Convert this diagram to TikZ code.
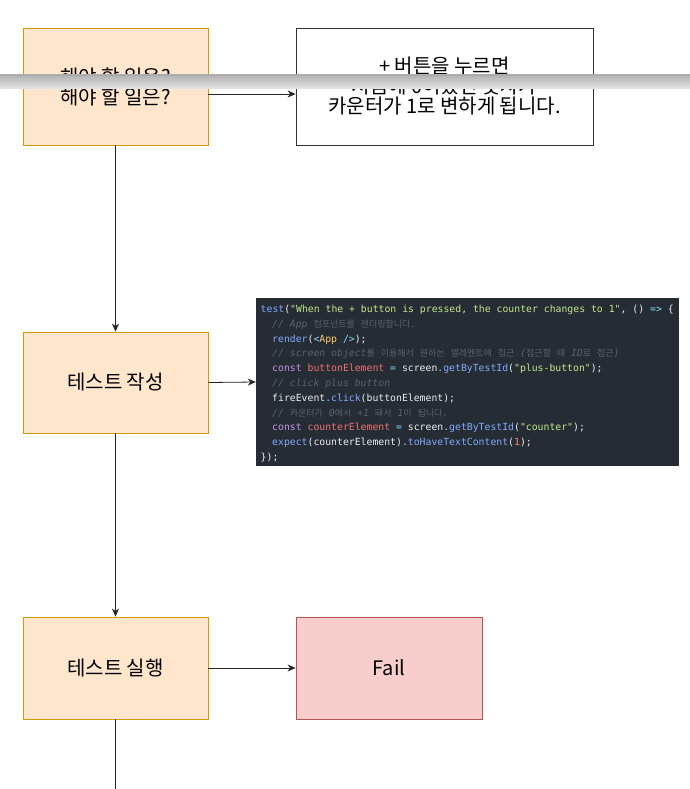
\documentclass[tikz,border=0pt]{standalone}
\usepackage{fontspec}
\usetikzlibrary{arrows.meta,calc}
\newfontfamily\kr{Noto Sans CJK KR}
\newfontfamily\codefont[Ligatures=TeXOff]{DejaVu Sans Mono}
\newcommand\krc{\kr\fontsize{9pt}{10pt}\selectfont}
\newcommand\hk[1]{{\krc #1}}
\definecolor{orfill}{HTML}{FFE6CC}
\definecolor{ordraw}{HTML}{D79B00}
\definecolor{rdfill}{HTML}{F8CECC}
\definecolor{rddraw}{HTML}{B85450}
\definecolor{codebg}{HTML}{252C33}
\definecolor{codefg}{HTML}{EAEFF2}
\definecolor{cblue}{HTML}{82AAFF}
\definecolor{cstr}{HTML}{C3E88D}
\definecolor{ccom}{HTML}{56636E}
\definecolor{ckw}{HTML}{C792EA}
\definecolor{cvar}{HTML}{F07178}
\definecolor{cpun}{HTML}{89DDFF}
\definecolor{cyel}{HTML}{FFCB6B}
\definecolor{cnum}{HTML}{F78C6C}
\newcommand\cdBlue[1]{\textcolor{cblue}{#1}}
\newcommand\cdStr[1]{\textcolor{cstr}{#1}}
\newcommand\cdCom[1]{\textcolor{ccom}{\itshape #1}}
\newcommand\cdKw[1]{\textcolor{ckw}{#1}}
\newcommand\cdVar[1]{\textcolor{cvar}{#1}}
\newcommand\cdPun[1]{\textcolor{cpun}{#1}}
\newcommand\cdYel[1]{\textcolor{cyel}{#1}}
\newcommand\cdNum[1]{\textcolor{cnum}{#1}}
\tikzset{
  boxbase/.style={rectangle, line width=0.8pt, align=center, inner sep=0pt,
    font=\kr\fontsize{20pt}{20pt}\selectfont, text=black},
  orbox/.style={boxbase, fill=orfill, draw=ordraw},
  whbox/.style={boxbase, fill=white, draw=black!80},
  rdbox/.style={boxbase, fill=rdfill, draw=rddraw},
  arr/.style={draw=black!85, line width=0.8pt, -{Stealth[length=8pt,width=7pt,inset=2.5pt]}},
  plain/.style={draw=black!85, line width=0.8pt},
  codeline/.style={anchor=base west, inner sep=0pt, text=codefg, font=\codefont\fontsize{9.8pt}{12pt}\selectfont}
}
\begin{document}
\begin{tikzpicture}[x=1pt,y=-1pt]
\useasboundingbox (0,0) rectangle (690,789);
\fill[white] (0,0) rectangle (690,789);

\node[orbox, minimum width=185pt, minimum height=117pt] (b1) at (115.5,86.5) {해야 할 일은?\\해야 할 일은?};
\node[whbox, minimum width=297pt, minimum height=117pt] (r1) at (444.5,86.5) {+ 버튼을 누르면\\처음에 0이었던 숫자가\\카운터가 1로 변하게 됩니다.};
\node[orbox, minimum width=185pt, minimum height=101pt] (b2) at (115.5,382.5) {테스트 작성};
\node[orbox, minimum width=185pt, minimum height=102pt] (b3) at (115.5,668) {테스트 실행};
\node[rdbox, minimum width=186pt, minimum height=102pt] (fail) at (389,668) {Fail};

% code image
\node[rectangle, fill=codebg, minimum width=423pt, minimum height=168pt, inner sep=0pt] (code) at (467.5,382) {};
\node[codeline] (l1) at (260.5,312.5) {\cdBlue{test}(\cdStr{"When the + button is pressed, the counter changes to 1"}, () \cdPun{=>} \{};
\node[codeline] (l2) at (272,327.3) {\cdCom{// App \hk{컴포넌트를} \hk{렌더링합니다}.}};
\node[codeline] (l3) at (272,342.1) {\cdBlue{render}(\cdPun{<}\cdYel{App} \cdPun{/>});};
\node[codeline] (l4) at (272,356.9) {\cdCom{// screen object\hk{를} \hk{이용해서} \hk{원하는} \hk{엘레멘트에} \hk{접근} (\hk{접근할} \hk{때} ID\hk{로} \hk{접근})}};
\node[codeline] (l5) at (272,371.7) {\cdKw{const} \cdVar{buttonElement} \cdPun{=} screen\cdPun{.}\cdBlue{getByTestId}(\cdStr{"plus-button"});};
\node[codeline] (l6) at (272,386.5) {\cdCom{// click plus button}};
\node[codeline] (l7) at (272,401.3) {fireEvent\cdPun{.}\cdBlue{click}(buttonElement);};
\node[codeline] (l8) at (272,416.1) {\cdCom{// \hk{카운터가} 0\hk{에서} +1 \hk{돼서} 1\hk{이} \hk{됩니다}.}};
\node[codeline] (l9) at (272,430.9) {\cdKw{const} \cdVar{counterElement} \cdPun{=} screen\cdPun{.}\cdBlue{getByTestId}(\cdStr{"counter"});};
\node[codeline] (l10) at (272,445.7) {\cdBlue{expect}(counterElement)\cdPun{.}\cdBlue{toHaveTextContent}(\cdNum{1});};
\node[codeline] (l11) at (260.5,460.5) {\});};

\coordinate (endpt) at (115.5,789);

% connectors
\draw[arr] ($(b1.east)+(0,7.5)$) -- ($(r1.west)+(0,7.5)$);
\draw[arr] (b1.south) -- (b2.north);
\draw[arr] (b2.east) -- (code.west);
\draw[arr] (b2.south) -- (b3.north);
\draw[arr] (b3.east) -- (fail.west);
\draw[plain] (b3.south) -- (endpt);

% gray overlay bar
\shade[top color={rgb,255:red,178;green,178;blue,178}, bottom color={rgb,255:red,230;green,230;blue,230}] (0,75) rectangle (690,89);
\draw[line width=0.6pt, color={rgb,255:red,170;green,170;blue,170}] (0,75.3) -- (690,75.3);
\end{tikzpicture}
\end{document}
